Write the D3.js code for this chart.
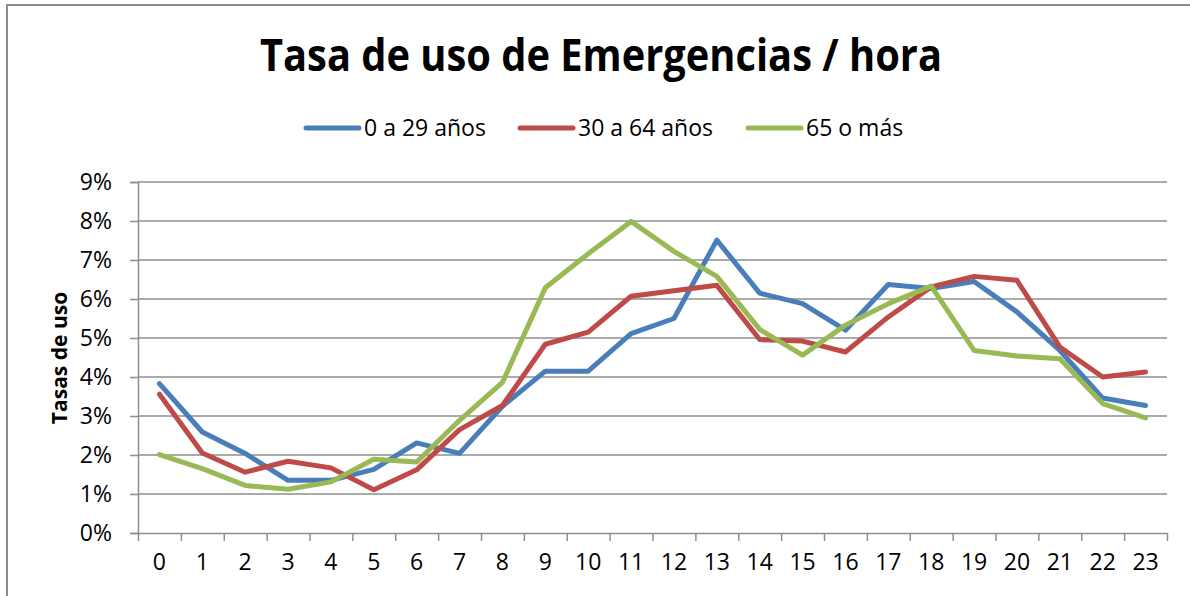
<!DOCTYPE html>
<html>
<head>
<meta charset="utf-8">
<script src="https://cdn.jsdelivr.net/npm/d3@7"></script>
<style>
  body { margin: 0; background: #fff; }
  svg { display: block; font-family: "Open Sans", sans-serif; }
</style>
</head>
<body>
<svg id="graph" width="1190" height="596"></svg>
<script>
const hours = d3.range(24);
const young = [3.83, 2.59, 2.04, 1.35, 1.35, 1.63, 2.31, 2.04, 3.25, 4.15, 4.15, 5.11, 5.50, 7.51,
  6.15, 5.88, 5.20, 6.37, 6.27, 6.45, 5.67, 4.68, 3.46, 3.27];
const adult = [3.56, 2.05, 1.56, 1.84, 1.67, 1.11, 1.62, 2.65, 3.27, 4.84, 5.15, 6.07, 6.21, 6.35,
  4.96, 4.92, 4.64, 5.54, 6.31, 6.58, 6.48, 4.77, 4.00, 4.13];
const senior = [2.01, 1.65, 1.22, 1.12, 1.31, 1.89, 1.82, 2.89, 3.86, 6.29, 7.16, 7.99, 7.22, 6.58,
  5.22, 4.56, 5.33, 5.88, 6.33, 4.68, 4.54, 4.47, 3.32, 2.95];
const seriesNames = ["0 a 29 años", "30 a 64 años", "65 o más"];
const colors = ["#4a7ebb", "#be4b48", "#98b954"];
const yTicks = [0, 1, 2, 3, 4, 5, 6, 7, 8, 9];

const series = [young, adult, senior].map((vals, i) => ({
  name: seriesNames[i],
  color: colors[i],
  values: vals.map((v, h) => ({ hour: hours[h], value: v / 100 }))
}));

const margin = { top: 182, right: 23, bottom: 63, left: 138 };
const width = 1190, height = 596;
const svg = d3.select("#graph");

// chart frame
svg.append("path")
  .attr("d", `M7,596V5H1190`)
  .attr("fill", "none")
  .attr("stroke", "#8c8c8c")
  .attr("stroke-width", 2);

const x = d3.scaleBand()
  .domain(hours)
  .range([margin.left, width - margin.right]);
const xEdge = d3.scaleLinear()
  .domain([0, hours.length])
  .range([margin.left, width - margin.right]);
const y = d3.scaleLinear()
  .domain([0, 0.09])
  .range([height - margin.bottom, margin.top]);

// gridlines
svg.append("g")
  .selectAll("line")
  .data(yTicks.slice(1))
  .join("line")
  .attr("x1", margin.left)
  .attr("x2", width - margin.right)
  .attr("y1", d => y(d / 100))
  .attr("y2", d => y(d / 100))
  .attr("stroke", "#8e8e8e")
  .attr("stroke-width", 1.5);

// y axis
svg.append("g")
  .attr("transform", `translate(${margin.left},0)`)
  .call(d3.axisLeft(y)
    .tickValues(yTicks.map(d => d / 100))
    .tickFormat(d3.format(".0%"))
    .tickSize(8)
    .tickPadding(18))
  .call(g => g.selectAll("line, path").attr("stroke", "#8e8e8e").attr("stroke-width", 1.5))
  .call(g => g.selectAll("text").attr("font-size", 23).attr("fill", "#000")
    .attr("font-family", "Open Sans, sans-serif"));

// x axis (ticks between categories)
svg.append("g")
  .attr("transform", `translate(0,${y(0)})`)
  .call(d3.axisBottom(xEdge)
    .tickValues(d3.range(hours.length + 1))
    .tickFormat("")
    .tickSize(8)
    .tickSizeOuter(0))
  .call(g => g.selectAll("line, path").attr("stroke", "#8e8e8e").attr("stroke-width", 1.5));

svg.append("g")
  .attr("transform", `translate(0,${y(0)})`)
  .call(d3.axisBottom(x).tickSize(0).tickPadding(21))
  .call(g => g.select(".domain").remove())
  .call(g => g.selectAll("text").attr("font-size", 23).attr("fill", "#000")
    .attr("font-family", "Open Sans, sans-serif"));

// lines
const line = d3.line()
  .x(d => x(d.hour) + x.bandwidth() / 2)
  .y(d => y(d.value));

svg.append("g")
  .selectAll("path")
  .data(series)
  .join("path")
  .attr("fill", "none")
  .attr("stroke", d => d.color)
  .attr("stroke-width", 5)
  .attr("stroke-linejoin", "round")
  .attr("stroke-linecap", "round")
  .attr("d", d => line(d.values));

// title
svg.append("text")
  .attr("x", 601)
  .attr("y", 71)
  .attr("text-anchor", "middle")
  .attr("font-size", 45)
  .attr("font-weight", "bold")
  .attr("textLength", 682)
  .attr("lengthAdjust", "spacingAndGlyphs")
  .text("Tasa de uso de Emergencias / hora");

// y axis title
svg.append("text")
  .attr("transform", "translate(67,358) rotate(-90)")
  .attr("text-anchor", "middle")
  .attr("font-size", 21)
  .attr("font-weight", "bold")
  .text("Tasas de uso");

// legend
const legendX = [306, 520, 748];
const legend = svg.append("g")
  .selectAll("g")
  .data(series)
  .join("g")
  .attr("transform", (d, i) => `translate(${legendX[i]},128)`);
legend.append("line")
  .attr("x1", 0).attr("x2", 53)
  .attr("stroke", d => d.color)
  .attr("stroke-width", 5)
  .attr("stroke-linecap", "round");
legend.append("text")
  .attr("x", 58)
  .attr("y", 8)
  .attr("font-size", 23)
  .text(d => d.name);
</script>
</body>
</html>
